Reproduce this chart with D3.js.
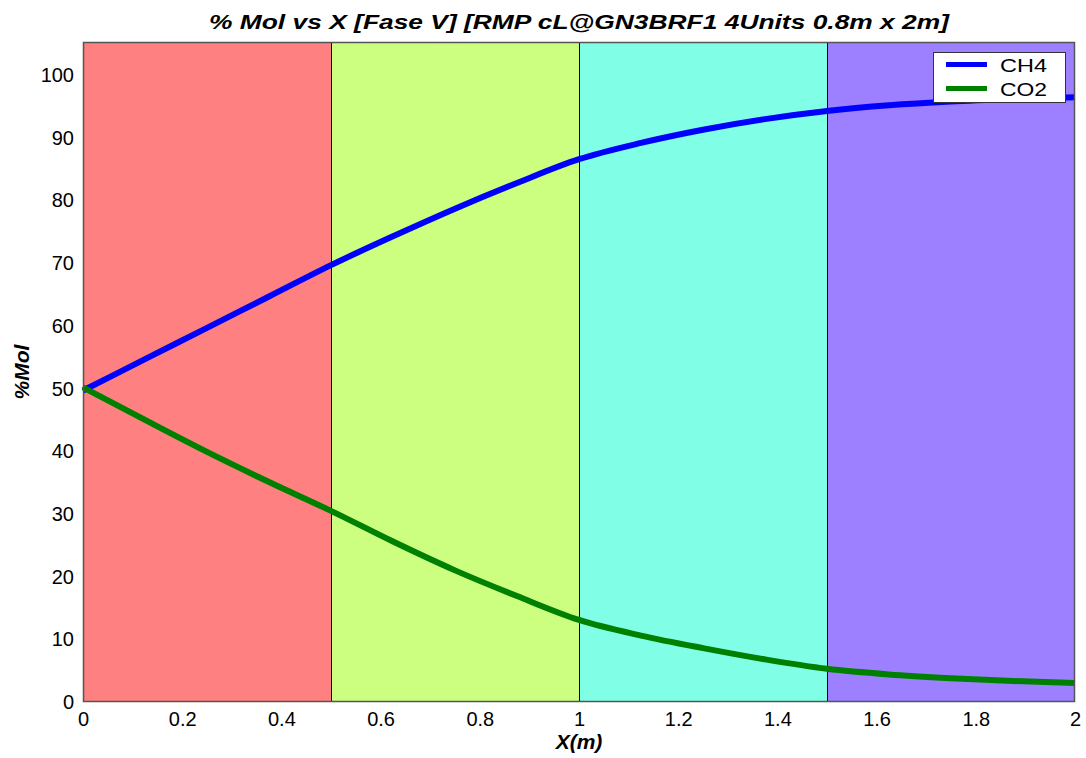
<!DOCTYPE html>
<html>
<head>
<meta charset="utf-8" />
<script src="https://d3js.org/d3.v7.min.js"></script>
<style>
  body { margin: 0; background: #fff; }
  text { font-family: "Liberation Sans", Arial, sans-serif; }
</style>
</head>
<body>
<svg id="chart" width="1086" height="758"></svg>
<script>
// --- data ---
var xs   = [0, 0.125, 0.25, 0.375, 0.5, 0.625, 0.75, 0.875, 1.0, 1.125, 1.25, 1.375, 1.5, 1.625, 1.75, 1.875, 2.0];
var ch4  = [49.7, 54.7, 59.7, 64.7, 69.7, 74.3, 78.7, 82.8, 86.6, 89.2, 91.3, 93.0, 94.3, 95.2, 95.8, 96.2, 96.5];
var co2  = [50.2, 45.0, 39.9, 35.1, 30.5, 25.6, 21.0, 16.9, 13.1, 10.6, 8.6, 6.8, 5.3, 4.4, 3.8, 3.35, 3.05];
var zones = [[0, 0.5], [0.5, 1.0], [1.0, 1.5], [1.5, 2.0]];
var zoneColors = ["#ff8080", "#ccff80", "#80ffe6", "#9d80ff"];
var xTicks = [0, 0.2, 0.4, 0.6, 0.8, 1, 1.2, 1.4, 1.6, 1.8, 2];
var yTicks = [0, 10, 20, 30, 40, 50, 60, 70, 80, 90, 100];
var series = [
  {name: "CH4", values: ch4, color: "#0000ff"},
  {name: "CO2", values: co2, color: "#008000"}
];

var svg = d3.select("#chart");
// "top" is taken by window.top, so plot edges get their own names
var pLeft = 83, pRight = 1075, pTop = 42, pBottom = 702;

var x = d3.scaleLinear().domain([0, 2]).range([pLeft, pRight]);
var y = d3.scaleLinear().domain([0, 105.3]).range([pBottom, pTop]);

// coloured zones
svg.append("g").selectAll("rect")
  .data(zones)
  .enter()
  .append("rect")
  .attr("x", d => x(d[0]))
  .attr("y", pTop)
  .attr("width", d => x(d[1]) - x(d[0]))
  .attr("height", pBottom - pTop)
  .attr("fill", (d, i) => zoneColors[i]);

// zone dividers
svg.append("g").selectAll("line")
  .data(zones.slice(1))
  .enter()
  .append("line")
  .attr("x1", d => Math.round(x(d[0])) + 0.5)
  .attr("x2", d => Math.round(x(d[0])) + 0.5)
  .attr("y1", pTop)
  .attr("y2", pBottom)
  .attr("stroke", "#000")
  .attr("stroke-width", 1);

// curves
var line = d3.line()
  .x((d, i) => x(xs[i]))
  .y(d => y(d))
  .curve(d3.curveMonotoneX);

svg.append("g").selectAll("path")
  .data(series)
  .enter()
  .append("path")
  .attr("d", d => line(d.values))
  .attr("fill", "none")
  .attr("stroke", d => d.color)
  .attr("stroke-width", 6);

// plot frame
svg.append("rect")
  .attr("x", pLeft + 0.5)
  .attr("y", pTop + 0.5)
  .attr("width", pRight - pLeft - 1)
  .attr("height", pBottom - pTop - 1)
  .attr("fill", "none")
  .attr("stroke", "#555")
  .attr("stroke-width", 1.5);

// axes (labels only, no tick marks)
var xAxis = d3.axisBottom(x).tickValues(xTicks).tickSize(0).tickPadding(10).tickFormat(d3.format("~g"));
var yAxis = d3.axisLeft(y).tickValues(yTicks).tickSize(0).tickPadding(9);

var gx = svg.append("g").attr("transform", "translate(0," + pBottom + ")").call(xAxis);
var gy = svg.append("g").attr("transform", "translate(" + pLeft + ",0)").call(yAxis);
[gx, gy].forEach(function(g) {
  g.select(".domain").remove();
  g.selectAll("text").attr("font-size", 20).attr("fill", "#000")
    .style("font-family", "'Liberation Sans', Arial, sans-serif");
});

// title and axis titles (reference text is drawn a bit wide)
svg.append("text")
  .attr("x", (pLeft + pRight) / 2)
  .attr("y", 29)
  .attr("text-anchor", "middle")
  .attr("font-size", 21)
  .attr("font-weight", "bold")
  .attr("font-style", "italic")
  .attr("textLength", 740)
  .attr("lengthAdjust", "spacingAndGlyphs")
  .text("% Mol vs X [Fase V] [RMP cL@GN3BRF1 4Units 0.8m x 2m]");

svg.append("text")
  .attr("x", (pLeft + pRight) / 2)
  .attr("y", 749)
  .attr("text-anchor", "middle")
  .attr("font-size", 21)
  .attr("font-weight", "bold")
  .attr("font-style", "italic")
  .text("X(m)");

svg.append("text")
  .attr("transform", "translate(29," + ((pTop + pBottom) / 2) + ") rotate(-90)")
  .attr("text-anchor", "middle")
  .attr("font-size", 21)
  .attr("font-weight", "bold")
  .attr("font-style", "italic")
  .text("%Mol");

// legend
var legend = svg.append("g").attr("transform", "translate(933,52)");
legend.append("rect")
  .attr("x", 0.5).attr("y", 0.5)
  .attr("width", 132).attr("height", 50)
  .attr("fill", "#fff")
  .attr("stroke", "#333");
var items = legend.selectAll("g.item")
  .data(series)
  .enter()
  .append("g")
  .attr("class", "item")
  .attr("transform", (d, i) => "translate(0," + (12.5 + i * 24) + ")");
items.append("line")
  .attr("x1", 13).attr("x2", 54)
  .attr("y1", 0).attr("y2", 0)
  .attr("stroke", d => d.color)
  .attr("stroke-width", 5);
items.append("text")
  .attr("x", 67)
  .attr("y", 7)
  .attr("font-size", 18)
  .attr("textLength", 47)
  .attr("lengthAdjust", "spacingAndGlyphs")
  .text(d => d.name);
</script>
</body>
</html>
